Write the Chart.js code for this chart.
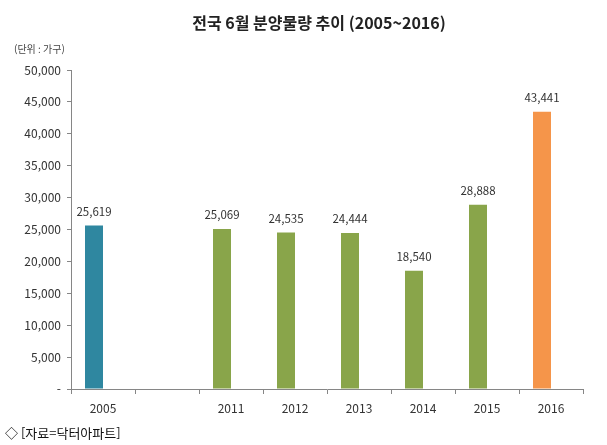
<!DOCTYPE html>
<html lang="ko">
<head>
<meta charset="utf-8">
<title>전국 6월 분양물량 추이</title>
<script src="https://cdn.jsdelivr.net/npm/chart.js@4.4.0/dist/chart.umd.min.js"></script>
<style>
    html, body { margin: 0; padding: 0; background: #fff; }
    #wrap { width: 607px; height: 445px; position: relative; }
</style>
</head>
<body>
<div id="wrap"><canvas id="supplyChart" width="607" height="445"></canvas></div>
<script>
// data
const years = ['2005', '', '2011', '2012', '2013', '2014', '2015', '2016'];
const supply = [25619, null, 25069, 24535, 24444, 18540, 28888, 43441];
const spacer = [null, null, null, null, null, null, null, null]; // empty second series (keeps bars left of centre)
const barColors = ['#2f87a0', '#ffffff', '#89a54a', '#89a54a', '#89a54a', '#89a54a', '#89a54a', '#f5954a'];
const yMin = 0;
const yMax = 50000;
const yStep = 5000;

const FONT = '"Noto Sans CJK KR", "Noto Sans", sans-serif';
const AXIS_GRAY = '#868686';

// titles, unit note, source line and value labels
const textPlugin = {
    id: 'texts',
    afterDatasetsDraw(chart) {
        const ctx = chart.ctx;
        ctx.save();

        ctx.fillStyle = '#222';
        ctx.font = 'bold 16px ' + FONT;
        ctx.textAlign = 'center';
        ctx.textBaseline = 'middle';
        ctx.fillText('전국 6월 분양물량 추이 (2005~2016)', 319, 23);

        ctx.fillStyle = '#444';
        ctx.font = '10px ' + FONT;
        ctx.textAlign = 'left';
        ctx.fillText('(단위 : 가구)', 14, 49);

        ctx.fillStyle = '#111';
        ctx.font = '13px ' + FONT;
        ctx.fillText('◇ [자료=닥터아파트]', 5, 433);

        // value labels above bars
        const meta = chart.getDatasetMeta(0);
        ctx.fillStyle = '#333';
        ctx.font = '11.5px ' + FONT;
        ctx.textAlign = 'center';
        meta.data.forEach((bar, i) => {
            const v = supply[i];
            if (v === null) return;
            ctx.fillText(v.toLocaleString('en-US'), bar.x, bar.y - 14);
        });

        ctx.restore();
    }
};

const ctxSupply = document.getElementById('supplyChart').getContext('2d');
new Chart(ctxSupply, {
    type: 'bar',
    data: {
        labels: years,
        datasets: [
            {
                label: '분양물량',
                data: supply,
                backgroundColor: barColors,
                borderWidth: 0
            },
            {
                label: '',
                data: spacer,
                backgroundColor: 'rgba(0,0,0,0)'
            }
        ]
    },
    options: {
        responsive: false,
        animation: false,
        categoryPercentage: 0.5625,
        barPercentage: 1,
        layout: { padding: { top: 70, right: 24, bottom: 0, left: 0 } },
        scales: {
            x: {
                offset: true,
                grid: { offset: true, drawOnChartArea: false, tickLength: 5, color: AXIS_GRAY },
                border: { color: AXIS_GRAY },
                ticks: { color: '#333', padding: 7, font: { family: FONT, size: 12 } },
                afterFit(scale) { scale.height = 56; }
            },
            y: {
                min: yMin,
                max: yMax,
                grid: { drawOnChartArea: false, tickLength: 4, color: AXIS_GRAY },
                border: { color: AXIS_GRAY },
                ticks: {
                    stepSize: yStep,
                    color: '#333',
                    padding: 6,
                    font: { family: FONT, size: 12 },
                    callback: v => v === 0 ? '-' : v.toLocaleString('en-US')
                },
                afterFit(scale) { scale.width = 71; }
            }
        },
        plugins: {
            legend: { display: false },
            tooltip: { enabled: false },
            title: { display: false }
        }
    },
    plugins: [textPlugin]
});
</script>
</body>
</html>
